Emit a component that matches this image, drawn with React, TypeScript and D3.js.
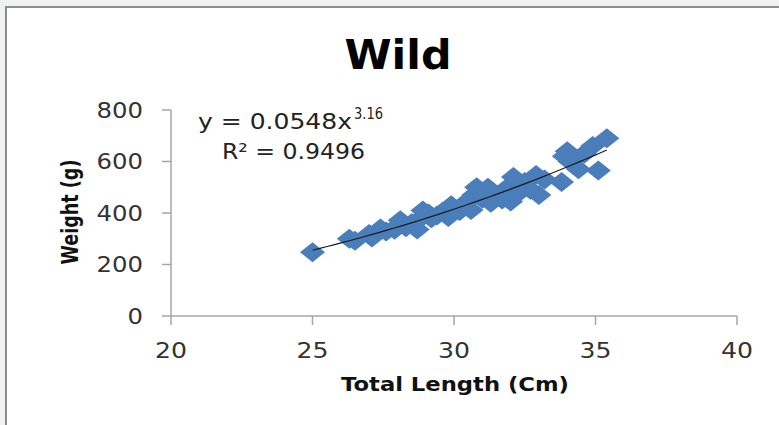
import * as d3 from "d3";

const lengths = [
  25.0, 26.3, 26.5, 27.0, 27.1, 27.4, 27.6, 27.9, 28.0, 28.1, 28.3, 28.5, 28.7, 28.8, 28.9,
  29.1, 29.2, 29.4, 29.6, 29.8, 29.9, 30.0, 30.2, 30.4, 30.6, 30.7, 30.8, 31.0, 31.2, 31.3,
  31.5, 31.7, 31.9, 32.0, 32.1, 32.3, 32.5, 32.7, 32.9, 33.0, 33.2, 33.8, 33.9, 34.0, 34.1,
  34.4, 34.6, 34.9, 35.1, 35.4,
];
const weights = [
  248, 300, 292, 318, 305, 340, 328, 335, 350, 372, 345, 360, 336, 378, 410,
  398, 380, 390, 405, 384, 430, 415, 408, 440, 412, 470, 500, 455, 498, 440,
  470, 452, 500, 445, 540, 480, 520, 490, 548, 470, 530, 520, 620, 640, 600,
  570, 630, 660, 565, 690,
];
const xTicks = [20, 25, 30, 35, 40];
const yTicks = [0, 200, 400, 600, 800];

const width = 779;
const height = 425;
const axisColor = "#a6a6a6";
const pointColor = "#4a7ebb";
const font = "'DejaVu Sans', Verdana, sans-serif";

export default function App() {
  const x = d3.scaleLinear([20, 40], [171, 737]);
  const y = d3.scaleLinear([0, 800], [316, 110]);

  // power trend line fitted on log-log values
  const lx = lengths.map(Math.log);
  const ly = weights.map(Math.log);
  const mx = d3.mean(lx)!;
  const my = d3.mean(ly)!;
  const b = d3.sum(lx, (v, i) => (v - mx) * (ly[i] - my)) / d3.sum(lx, (v) => (v - mx) ** 2);
  const a = Math.exp(my - b * mx);
  const [x0, x1] = d3.extent(lengths) as [number, number];
  const trend = d3.range(0, 41).map((i) => x0 + ((x1 - x0) * i) / 40);
  const line = d3.line<number>((d) => x(d), (d) => y(a * Math.pow(d, b)));

  const diamond = "M0,-10L12.5,0L0,10L-12.5,0Z";

  return (
    <svg width={width} height={height} style={{ position: "absolute", left: 0, top: 0 }}>
      <rect width={width} height={height} fill="#f1f2f4" />
      <rect x={6} y={7} width={width + 20} height={height + 20} fill="#fff" stroke="#8c8c8c" strokeWidth={2} />

      <text x={398} y={69} textAnchor="middle" fontFamily={font} fontWeight="bold" fontSize={40}
        textLength={107} lengthAdjust="spacingAndGlyphs" fill="#000">Wild</text>

      {/* y axis */}
      <line x1={x(20)} x2={x(20)} y1={y(800)} y2={y(0)} stroke={axisColor} strokeWidth={1.5} />
      {yTicks.map((t) => (
        <g key={t}>
          <line x1={x(20) - 9} x2={x(20)} y1={y(t)} y2={y(t)} stroke={axisColor} strokeWidth={1.5} />
          <text x={143} y={y(t) + 7.5} textAnchor="end" fontFamily={font} fontSize={21} fill="#333"
            textLength={String(t).length * 15.5} lengthAdjust="spacingAndGlyphs">{t}</text>
        </g>
      ))}

      {/* x axis */}
      <line x1={x(20)} x2={x(40)} y1={y(0)} y2={y(0)} stroke={axisColor} strokeWidth={1.5} />
      {xTicks.map((t) => (
        <g key={t}>
          <line x1={x(t)} x2={x(t)} y1={y(0)} y2={y(0) + 9} stroke={axisColor} strokeWidth={1.5} />
          <text x={x(t)} y={358} textAnchor="middle" fontFamily={font} fontSize={21} fill="#333"
            textLength={32} lengthAdjust="spacingAndGlyphs">{t}</text>
        </g>
      ))}

      <text x={455} y={391} textAnchor="middle" fontFamily={font} fontWeight="bold" fontSize={19}
        textLength={228} lengthAdjust="spacingAndGlyphs" fill="#111">Total Length (Cm)</text>
      <text transform="translate(78,212) rotate(-90)" textAnchor="middle" fontFamily={font} fontWeight="bold"
        fontSize={23} textLength={105} lengthAdjust="spacingAndGlyphs" fill="#111">Weight (g)</text>

      {/* points */}
      <g fill={pointColor}>
        {lengths.map((d, i) => (
          <path key={i} d={diamond} transform={`translate(${x(d)},${y(weights[i])})`} />
        ))}
      </g>
      <path d={line(trend) ?? ""} fill="none" stroke="#1a1a1a" strokeWidth={1.2} />

      {/* equation */}
      <text x={198} y={129} fontFamily={font} fontSize={21} fill="#222" textLength={154}
        lengthAdjust="spacingAndGlyphs">y = 0.0548x</text>
      <text x={354} y={119} fontFamily={font} fontSize={15} fill="#222" textLength={29}
        lengthAdjust="spacingAndGlyphs">3.16</text>
      <text x={222} y={159} fontFamily={font} fontSize={21} fill="#222" textLength={143}
        lengthAdjust="spacingAndGlyphs">R² = 0.9496</text>
    </svg>
  );
}
